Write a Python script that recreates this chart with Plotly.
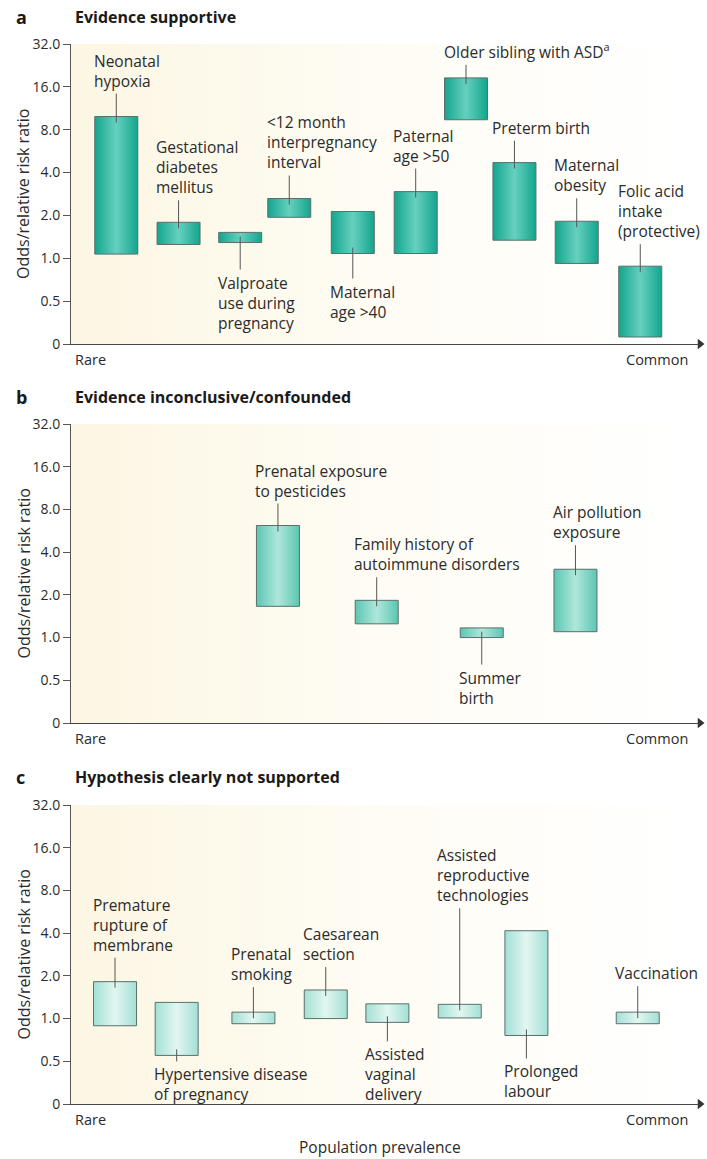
import math
import plotly.graph_objects as go

W, H = 707, 1159

# ---------------- data ----------------
# Panel a: Evidence supportive
a_labels = ["Neonatal<br>hypoxia", "Gestational<br>diabetes<br>mellitus", "Valproate<br>use during<br>pregnancy",
            "&lt;12 month<br>interpregnancy<br>interval", "Maternal<br>age &gt;40", "Paternal<br>age &gt;50",
            "Older sibling with ASD<sup>a</sup>", "Preterm birth", "Maternal<br>obesity",
            "Folic acid<br>intake<br>(protective)"]
a_prevalence = [7.2, 17.1, 26.9, 34.7, 44.8, 54.8, 62.8, 70.5, 80.4, 90.5]
a_low = [1.07, 1.25, 1.29, 1.94, 1.08, 1.08, 9.4, 1.34, 0.92, 0.28]
a_high = [9.9, 1.79, 1.52, 2.63, 2.13, 2.94, 18.5, 4.7, 1.82, 0.88]

# Panel b: Evidence inconclusive/confounded
b_labels = ["Prenatal exposure<br>to pesticides", "Family history of<br>autoimmune disorders",
            "Summer<br>birth", "Air pollution<br>exposure"]
b_prevalence = [32.9, 48.6, 65.3, 80.2]
b_low = [1.66, 1.25, 1.0, 1.1]
b_high = [6.16, 1.83, 1.17, 3.03]

# Panel c: Hypothesis clearly not supported
c_labels = ["Premature<br>rupture of<br>membrane", "Hypertensive disease<br>of pregnancy",
            "Prenatal<br>smoking", "Caesarean<br>section", "Assisted<br>vaginal<br>delivery",
            "Assisted<br>reproductive<br>technologies", "Prolonged<br>labour", "Vaccination"]
c_prevalence = [7.0, 16.8, 29.0, 40.5, 50.3, 61.8, 72.4, 90.1]
c_low = [0.89, 0.55, 0.92, 1.0, 0.94, 1.01, 0.76, 0.92]
c_high = [1.82, 1.30, 1.11, 1.59, 1.27, 1.26, 4.16, 1.11]

y_tickvals = [0.25, 0.5, 1, 2, 4, 8, 16, 32]
y_ticktext = ["0", "0.5", "1.0", "2.0", "4.0", "8.0", "16.0", "32.0"]

panel_letters = ["a", "b", "c"]
panel_titles = ["Evidence supportive", "Evidence inconclusive/confounded", "Hypothesis clearly not supported"]

# ---------------- label styling (side, leader gap in px) ----------------
a_style = [("up", 23), ("up", 22), ("down", 27), ("up", 23), ("down", 25), ("up", 23),
           ("up", 13), ("up", 22), ("up", 23), ("up", 22)]
b_style = [("up", 22), ("up", 23), ("down", 27), ("up", 24)]
c_style = [("up", 24), ("down", 6), ("up", 25), ("up", 23), ("down", 19), ("up", 96),
           ("down", 23), ("up", 26)]

panels = [
    dict(labels=a_labels, x=a_prevalence, lo=a_low, hi=a_high, style=a_style,
         top=44, bottom=344, title_y=17, edge="#13a58d", center="#66d0bf"),
    dict(labels=b_labels, x=b_prevalence, lo=b_low, hi=b_high, style=b_style,
         top=424, bottom=723, title_y=397, edge="#5cc6b2", center="#afe7db"),
    dict(labels=c_labels, x=c_prevalence, lo=c_low, hi=c_high, style=c_style,
         top=805, bottom=1104, title_y=777, edge="#a3e0d4", center="#e2f6f1"),
]

FONT = "Open Sans"
TXT = "#2b2b2b"
LBL = 15.5
X_LEFT, X_RIGHT = 71, 700
BAR_W = 43 / (X_RIGHT - X_LEFT) * 100
XMIN, XMAX = 0, 100
YMIN, YMAX = 0.25, 32

fig = go.Figure()
annotations = []
layout = {}

def py(px):
    return 1 - px / H

for i, p in enumerate(panels):
    n = "" if i == 0 else str(i + 1)
    xa, ya = "x" + n, "y" + n
    ppd = (p["bottom"] - p["top"]) / math.log2(YMAX / YMIN)  # pixels per doubling

    # background gradient
    fig.add_trace(go.Scatter(
        x=[XMIN, XMAX, XMAX, XMIN, XMIN], y=[YMIN, YMIN, YMAX, YMAX, YMIN], xaxis=xa, yaxis=ya,
        mode="lines", line=dict(width=0), fill="toself", hoverinfo="skip", showlegend=False,
        fillgradient=dict(type="horizontal",
                          colorscale=[[0, "#fcf6e3"], [0.5, "#fefcf4"], [1, "#ffffff"]])))

    for lab, cx, lo, hi, (side, gap) in zip(p["labels"], p["x"], p["lo"], p["hi"], p["style"]):
        x0, x1 = cx - BAR_W / 2, cx + BAR_W / 2
        fig.add_trace(go.Scatter(
            x=[x0, x1, x1, x0, x0], y=[lo, lo, hi, hi, lo], xaxis=xa, yaxis=ya,
            mode="lines", line=dict(color="#5b6f6b", width=1), fill="toself",
            fillgradient=dict(type="horizontal",
                              colorscale=[[0, p["edge"]], [0.5, p["center"]], [1, p["edge"]]]),
            hoverinfo="skip", showlegend=False))
        if side == "up":
            ly = [hi * 2 ** (-6 / ppd), hi * 2 ** (gap / ppd)]
            annotations.append(dict(x=x0, y=math.log10(hi), xref=xa, yref=ya, text=lab,
                                    showarrow=False, xanchor="left", yanchor="bottom",
                                    xshift=-3, yshift=gap, align="left",
                                    font=dict(family=FONT, size=LBL, color=TXT)))
        else:
            ly = [lo * 2 ** (6 / ppd), lo * 2 ** (-gap / ppd)]
            annotations.append(dict(x=x0, y=math.log10(lo), xref=xa, yref=ya, text=lab,
                                    showarrow=False, xanchor="left", yanchor="top",
                                    xshift=-3, yshift=-gap, align="left",
                                    font=dict(family=FONT, size=LBL, color=TXT)))
        fig.add_trace(go.Scatter(x=[cx, cx], y=ly, xaxis=xa, yaxis=ya, mode="lines",
                                 line=dict(color="#555555", width=1),
                                 hoverinfo="skip", showlegend=False))

    # arrowhead at the right end of the x-axis
    fig.add_trace(go.Scatter(x=[XMAX], y=[YMIN], xaxis=xa, yaxis=ya, mode="markers",
                             marker=dict(symbol="triangle-right", size=9, color="#333333",
                                         line=dict(width=0)),
                             cliponaxis=False, hoverinfo="skip", showlegend=False))

    layout["xaxis" + n] = dict(domain=[X_LEFT / W, X_RIGHT / W], range=[XMIN, XMAX], anchor=ya,
                               showline=True, linecolor="#444444", linewidth=1.2,
                               showticklabels=False, ticks="", showgrid=False, zeroline=False,
                               fixedrange=True, automargin=False)
    layout["yaxis" + n] = dict(domain=[py(p["bottom"]), py(p["top"])], type="log",
                               range=[math.log10(YMIN), math.log10(YMAX)], anchor=xa,
                               showline=True, linecolor="#555555", linewidth=1,
                               ticks="outside", ticklen=7, tickcolor="#555555",
                               tickvals=y_tickvals, ticktext=y_ticktext,
                               tickfont=dict(family=FONT, size=14, color=TXT),
                               showgrid=False, zeroline=False, fixedrange=True, automargin=False)

    # Rare / Common
    annotations.append(dict(x=0, y=0, xref=xa + " domain", yref=ya + " domain", text="Rare",
                            showarrow=False, xanchor="left", yanchor="middle", xshift=2, yshift=-15,
                            font=dict(family=FONT, size=14.5, color=TXT)))
    annotations.append(dict(x=1, y=0, xref=xa + " domain", yref=ya + " domain", text="Common",
                            showarrow=False, xanchor="right", yanchor="middle", xshift=-10, yshift=-15,
                            font=dict(family=FONT, size=14.5, color=TXT)))
    # y axis title
    annotations.append(dict(x=23 / W, y=0.5, xref="paper", yref=ya + " domain",
                            text="Odds/relative risk ratio", textangle=-90, showarrow=False,
                            xanchor="center", yanchor="middle",
                            font=dict(family=FONT, size=16, color=TXT)))
    # panel letter and title
    annotations.append(dict(x=14 / W, y=py(p["title_y"]), xref="paper", yref="paper",
                            text="<b>" + panel_letters[i] + "</b>", showarrow=False,
                            xanchor="left", yanchor="middle",
                            font=dict(family=FONT, size=18, color="#1a1a1a")))
    annotations.append(dict(x=73 / W, y=py(p["title_y"]), xref="paper", yref="paper",
                            text="<b>" + panel_titles[i] + "</b>", showarrow=False,
                            xanchor="left", yanchor="middle",
                            font=dict(family=FONT, size=16, color="#1a1a1a")))

annotations.append(dict(x=380 / W, y=py(1147), xref="paper", yref="paper",
                        text="Population prevalence", showarrow=False,
                        xanchor="center", yanchor="middle",
                        font=dict(family=FONT, size=15.5, color=TXT)))

fig.update_layout(width=W, height=H, margin=dict(l=0, r=0, t=0, b=0, pad=0, autoexpand=False),
                  autosize=False, paper_bgcolor="white", plot_bgcolor="rgba(0,0,0,0)",
                  showlegend=False, annotations=annotations, **layout)

fig.write_html(
    "out.html",
    config={"responsive": False, "displayModeBar": False},
    post_script=(
        "document.documentElement.style.margin='0px';"
        "document.documentElement.style.overflow='hidden';"
        "document.body.style.margin='0px';"
        "document.body.style.overflow='hidden';"
        "var g=document.getElementById('{plot_id}');"
        "g.style.position='fixed';g.style.left='0px';g.style.top='0px';"
    ),
)
